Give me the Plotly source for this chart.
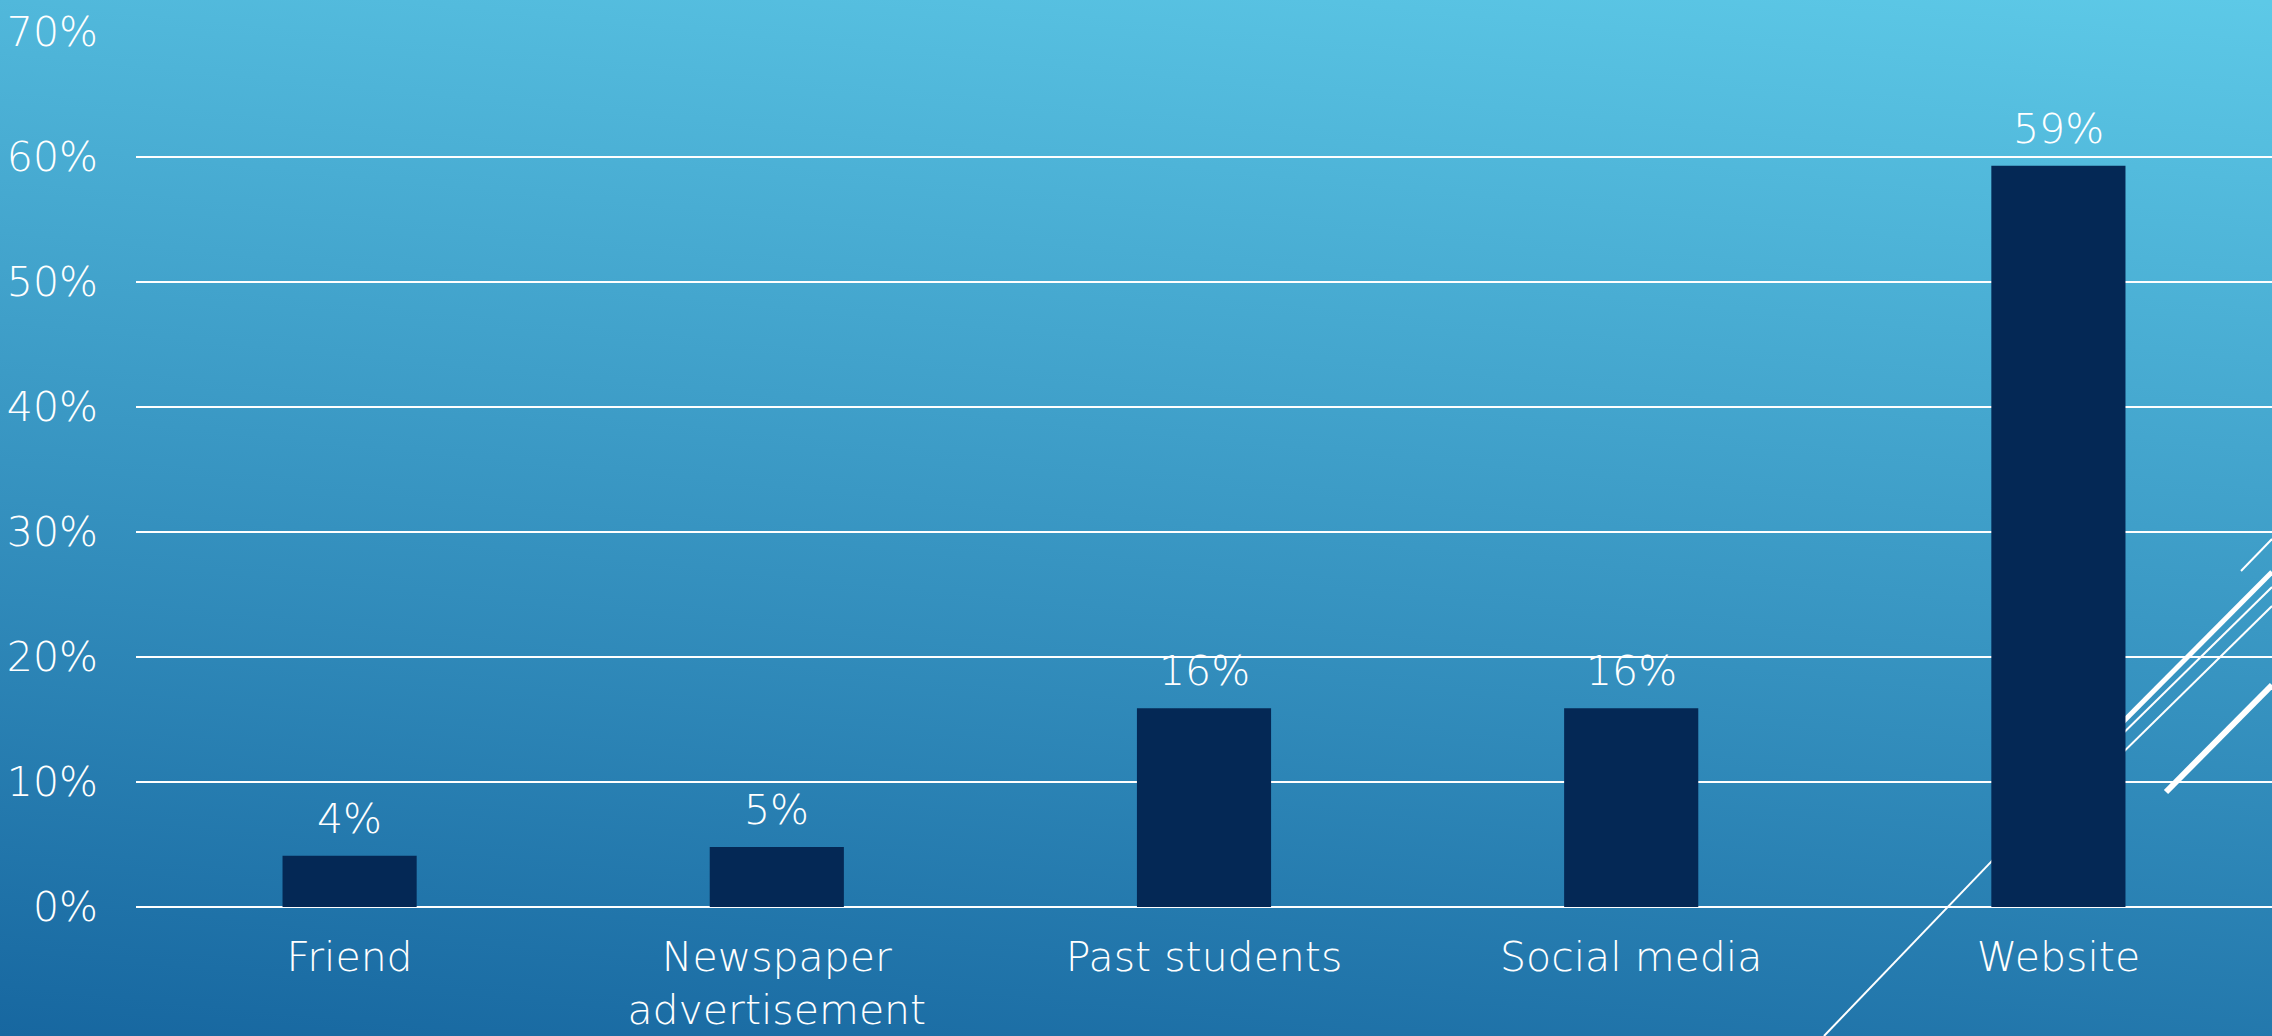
import base64
import plotly.graph_objects as go

# data
categories = ["Friend", "Newspaper<br>advertisement", "Past students", "Social media", "Website"]
shares = [0.041, 0.048, 0.159, 0.159, 0.593]
y_ticks = [0, 0.1, 0.2, 0.3, 0.4, 0.5, 0.6, 0.7]

W, H = 2272, 1036
L, R, T, B = 136, 0, 32, 129
pw, ph = W - L - R, H - T - B

FONT = "DejaVu Sans"
FS = 41
BAR = "#042855"

# gradient backdrop as an svg data uri (mostly vertical, slight tilt)
svg = f"""<svg xmlns='http://www.w3.org/2000/svg' width='{W}' height='{H}' viewBox='0 0 {W} {H}' preserveAspectRatio='none'>
<defs><linearGradient id='g' gradientUnits='userSpaceOnUse' x1='0' y1='{H}' x2='120' y2='-206'>
<stop offset='0' stop-color='#1767A0'/><stop offset='0.5' stop-color='#3A98C4'/><stop offset='1' stop-color='#5DC9E7'/>
</linearGradient></defs><rect width='{W}' height='{H}' fill='url(#g)'/></svg>"""
src = "data:image/svg+xml;base64," + base64.b64encode(svg.encode()).decode()


def px(x, y):
    return (x - L) / pw, (H - B - y) / ph


fig = go.Figure()
fig.add_trace(go.Bar(
    x=categories, y=shares,
    marker=dict(color=BAR, line=dict(width=0)),
    hoverinfo="x+y",
))

# value labels above each bar
for c, v in zip(categories, shares):
    fig.add_annotation(x=c, y=v, text=f"{v:.0%}", showarrow=False, yanchor="bottom", yshift=11,
                       font=dict(color="white", size=FS, family=FONT, weight=200))

# decorative diagonal strokes (theme ornament)
strokes = [
    ((1824, 1036), (2060, 790), 2),
    ((2100, 745), (2272, 572), 5),
    ((2100, 756), (2272, 587), 2),
    ((2100, 775), (2272, 606), 2),
    ((2166, 792), (2272, 685), 6),
    ((2241, 571), (2272, 539), 2),
]
for (x0, y0), (x1, y1), w in strokes:
    a0, b0 = px(x0, y0)
    a1, b1 = px(x1, y1)
    fig.add_shape(type="line", xref="paper", yref="paper", x0=a0, y0=b0, x1=a1, y1=b1,
                  line=dict(color="white", width=w), layer="below")

fig.add_layout_image(dict(source=src, xref="paper", yref="paper",
                          x=-L / pw, y=1 + T / ph, sizex=W / pw, sizey=H / ph,
                          xanchor="left", yanchor="top", sizing="stretch", layer="below"))

fig.update_layout(
    width=W, height=H,
    margin=dict(l=L, r=R, t=T, b=B, autoexpand=False),
    paper_bgcolor="#2A86B8",
    plot_bgcolor="rgba(0,0,0,0)",
    bargap=0.686,
    showlegend=False,
    font=dict(family=FONT, color="white", size=FS, weight=200),
)
fig.update_xaxes(showgrid=False, showline=False, ticks="", automargin=False,
                 tickfont=dict(size=FS, color="white", family=FONT, weight=200),
                 ticklabelstandoff=22, range=[-0.5, 4.5])
fig.update_yaxes(range=[0, 0.7], tickvals=y_ticks, tickformat=".0%", showgrid=True, automargin=False,
                 gridcolor="white", gridwidth=1.5, zeroline=True, zerolinecolor="white",
                 zerolinewidth=2, showline=False, ticks="", ticklabelstandoff=37,
                 tickfont=dict(size=FS, color="white", family=FONT, weight=200))

# page has a default body margin; drop it so the chart sits flush in the window
fig.write_html("out.html", config={"displayModeBar": False},
               post_script="document.body.style.margin='0';document.body.style.overflow='hidden';")
